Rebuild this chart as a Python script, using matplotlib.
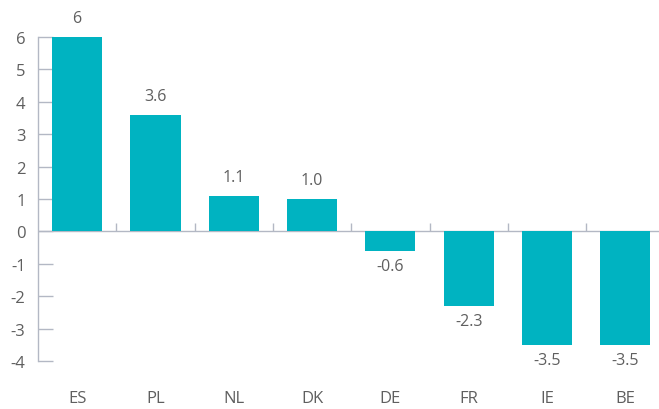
import numpy as np
import matplotlib
matplotlib.use("Agg")
import matplotlib.pyplot as plt

countries = ["ES", "PL", "NL", "DK", "DE", "FR", "IE", "BE"]
values = [6, 3.6, 1.1, 1.0, -0.6, -2.3, -3.5, -3.5]
value_labels = ["6", "3.6", "1.1", "1.0", "-0.6", "-2.3", "-3.5", "-3.5"]
y_ticks = [-4, -3, -2, -1, 0, 1, 2, 3, 4, 5, 6]

BAR = "#00b3c1"
AXIS = "#b3b8c4"
TEXT = "#5f5f5f"

plt.rcParams["font.family"] = ["Open Sans", "DejaVu Sans"]

fig = plt.figure(figsize=(6.59, 4.10), dpi=100)
ax = fig.add_axes([38 / 659, 48 / 410, 1 - 38 / 659, 324 / 410])

x = np.arange(len(countries))
ax.bar(x, values, width=0.64, color=BAR, zorder=2)

for xi, v, lab in zip(x, values, value_labels):
    if v >= 0:
        ax.annotate(lab, (xi, v), xytext=(0, 8), textcoords="offset points",
                    ha="center", va="bottom", fontsize=11.5, color=TEXT)
    else:
        ax.annotate(lab, (xi, v), xytext=(0, -5), textcoords="offset points",
                    ha="center", va="top", fontsize=11.5, color=TEXT)

# zero line with small separators between categories
ax.axhline(0, color=AXIS, lw=1, zorder=1)
ax.vlines(x[:-1] + 0.5, 0, 0.27, color=AXIS, lw=1, zorder=1)

ax.set_xlim(-0.5, 7.43)
ax.set_ylim(-4, 6)
ax.set_yticks(y_ticks)
ax.set_yticklabels([str(t) for t in y_ticks])
ax.set_xticks(x)
ax.set_xticklabels(countries)

for s in ["top", "right", "bottom"]:
    ax.spines[s].set_visible(False)
ax.spines["left"].set_color(AXIS)
ax.spines["left"].set_linewidth(1)

ax.tick_params(axis="y", direction="in", length=11, width=1, color=AXIS,
               labelsize=12, labelcolor=TEXT, pad=9)
ax.tick_params(axis="x", length=0, labelsize=12, labelcolor=TEXT, pad=21)

fig.savefig("out.png", dpi=100)
